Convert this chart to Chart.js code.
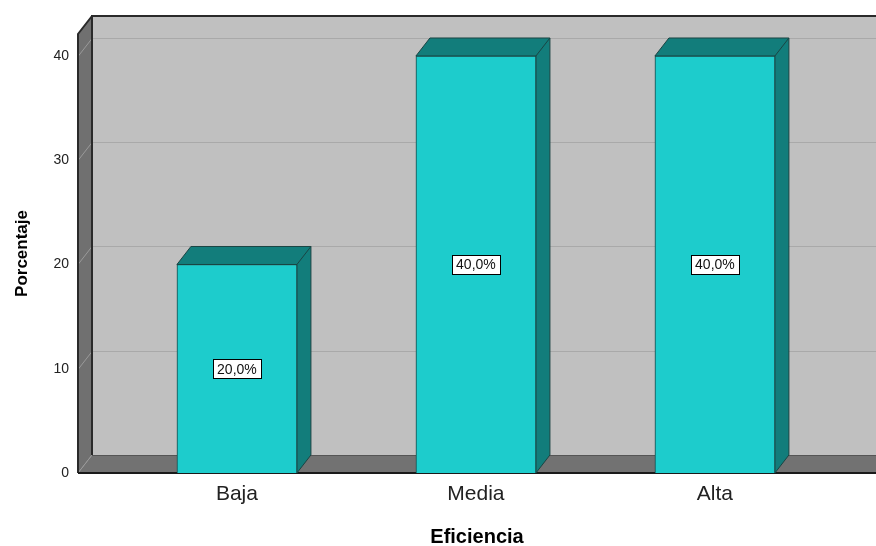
<!DOCTYPE html>
<html>
<head>
<meta charset="utf-8">
<script src="https://cdn.jsdelivr.net/npm/chart.js@4/dist/chart.umd.min.js"></script>
<style>
  html, body { margin: 0; padding: 0; background: #ffffff; }
  #wrap { width: 876px; height: 546px; }
</style>
</head>
<body>
<div id="wrap"><canvas id="chart" width="876" height="546"></canvas></div>
<script>
// Categories and values (percent of cases)
const categories = ['Baja', 'Media', 'Alta'];
const percentages = [20, 40, 40];
const yTickStep = 10;

// Depth of the 3D box (pixels): shift toward the back wall
const DEPTH_X = 14;
const DEPTH_Y = -18;

const FONT = '"Liberation Sans", Arial, sans-serif';

function fmtPct(v) {
  return v.toFixed(1).replace('.', ',') + '%';
}

// Walls, floor and grid drawn in perspective behind the bars
const boxPlugin = {
  id: 'box3d',
  beforeDraw(chart) {
    const { ctx, chartArea: ca, scales } = chart;
    const y = scales.y;
    const L = ca.left, R = chart.width + 20, T = ca.top, B = ca.bottom;
    const bx = L + DEPTH_X, by = B + DEPTH_Y, bt = T + DEPTH_Y;
    ctx.save();

    // back wall
    ctx.fillStyle = '#c0c0c0';
    ctx.fillRect(bx, bt, R - bx, by - bt);

    // left wall
    ctx.fillStyle = '#707070';
    ctx.beginPath();
    ctx.moveTo(L, T); ctx.lineTo(bx, bt); ctx.lineTo(bx, by); ctx.lineTo(L, B);
    ctx.closePath(); ctx.fill();

    // floor
    ctx.fillStyle = '#727272';
    ctx.beginPath();
    ctx.moveTo(L, B); ctx.lineTo(bx, by); ctx.lineTo(R, by); ctx.lineTo(R, B);
    ctx.closePath(); ctx.fill();

    // grid lines: horizontal on the back wall, slanted on the left wall
    ctx.lineWidth = 1;
    y.ticks.forEach(t => {
      if (t.value <= y.min) return;
      const py = Math.round(y.getPixelForValue(t.value)) + 0.5;
      ctx.strokeStyle = '#a9a9a9';
      ctx.beginPath(); ctx.moveTo(bx, py + DEPTH_Y); ctx.lineTo(R, py + DEPTH_Y); ctx.stroke();
      ctx.strokeStyle = '#9a9a9a';
      ctx.beginPath(); ctx.moveTo(L, py); ctx.lineTo(bx, py + DEPTH_Y); ctx.stroke();
    });
    // floor corner edge
    ctx.strokeStyle = '#999999';
    ctx.beginPath(); ctx.moveTo(L, B); ctx.lineTo(bx, by); ctx.stroke();

    // back wall bottom edge
    ctx.strokeStyle = '#555555';
    ctx.beginPath(); ctx.moveTo(bx, by + 0.5); ctx.lineTo(R, by + 0.5); ctx.stroke();

    // dark outlines
    ctx.strokeStyle = '#2a2a2a';
    ctx.lineWidth = 2;
    ctx.beginPath(); ctx.moveTo(bx, by); ctx.lineTo(bx, bt); ctx.lineTo(R, bt); ctx.stroke();
    ctx.beginPath(); ctx.moveTo(L, B); ctx.lineTo(L, T); ctx.lineTo(bx, bt); ctx.stroke();
    ctx.strokeStyle = '#1a1a1a';
    ctx.beginPath(); ctx.moveTo(L, B); ctx.lineTo(R, B); ctx.stroke();
    ctx.restore();
  },
  // top and side faces of each bar
  beforeDatasetsDraw(chart) {
    const { ctx } = chart;
    const meta = chart.getDatasetMeta(0);
    ctx.save();
    ctx.fillStyle = '#127d7b';
    ctx.strokeStyle = '#1b4443';
    ctx.lineWidth = 1;
    meta.data.forEach(bar => {
      const p = bar.getProps(['x', 'y', 'base', 'width'], true);
      const x1 = p.x - p.width / 2, x2 = p.x + p.width / 2;
      const top = p.y, bot = p.base;
      ctx.beginPath();
      ctx.moveTo(x1, top);
      ctx.lineTo(x1 + DEPTH_X, top + DEPTH_Y);
      ctx.lineTo(x2 + DEPTH_X, top + DEPTH_Y);
      ctx.lineTo(x2 + DEPTH_X, bot + DEPTH_Y);
      ctx.lineTo(x2, bot);
      ctx.lineTo(x2, top);
      ctx.closePath();
      ctx.fill(); ctx.stroke();
      ctx.beginPath();
      ctx.moveTo(x2, top); ctx.lineTo(x2 + DEPTH_X, top + DEPTH_Y);
      ctx.stroke();
    });
    ctx.restore();
  },
  // boxed value labels in the middle of each bar
  afterDatasetsDraw(chart) {
    const { ctx, scales } = chart;
    const meta = chart.getDatasetMeta(0);
    const data = chart.data.datasets[0].data;
    ctx.save();
    ctx.font = '14px ' + FONT;
    ctx.textAlign = 'center';
    ctx.textBaseline = 'middle';
    meta.data.forEach((bar, i) => {
      const v = data[i].y;
      const cx = bar.x;
      const cy = scales.y.getPixelForValue(v / 2);
      const txt = fmtPct(v);
      const w = Math.round(ctx.measureText(txt).width) + 8, h = 19;
      const bx = Math.round(cx - w / 2) + 0.5, by = Math.round(cy - h / 2) + 0.5;
      ctx.fillStyle = '#ffffff';
      ctx.fillRect(bx, by, w, h);
      ctx.strokeStyle = '#000000';
      ctx.lineWidth = 1;
      ctx.strokeRect(bx, by, w, h);
      ctx.fillStyle = '#111111';
      ctx.fillText(txt, cx, cy + 1);
    });
    ctx.restore();
  }
};

// x positions: one unit per category; range chosen so the box spans the canvas width
const X_MIN = -0.665, X_MAX = 2.674;

new Chart(document.getElementById('chart'), {
  type: 'bar',
  data: {
    datasets: [{
      data: percentages.map((v, i) => ({ x: i, y: v })),
      backgroundColor: '#1dcccc',
      borderColor: '#1b4443',
      borderWidth: 1,
      barThickness: 120
    }]
  },
  options: {
    responsive: false,
    animation: false,
    devicePixelRatio: 1,
    layout: { padding: { top: 34, right: 0, left: 0, bottom: 0 } },
    plugins: { legend: { display: false }, tooltip: { enabled: false } },
    scales: {
      x: {
        type: 'linear',
        offset: false,
        min: X_MIN,
        max: X_MAX,
        grid: { display: false, drawTicks: false, offset: false },
        border: { display: false },
        afterBuildTicks(scale) {
          scale.ticks = categories.map((_, i) => ({ value: i }));
        },
        afterFit(scale) { scale.height = 73; },
        ticks: {
          padding: 9,
          color: '#222222',
          font: { family: FONT, size: 21 },
          callback: v => categories[v] ?? ''
        },
        title: {
          display: true,
          text: 'Eficiencia',
          color: '#000000',
          font: { family: FONT, size: 20, weight: 'bold', lineHeight: '18px' },
          padding: { top: 0, bottom: 0 }
        }
      },
      y: {
        min: 0,
        max: 42.11,
        grid: { display: false, drawTicks: false },
        border: { display: false },
        afterFit(scale) { scale.width = 78; },
        ticks: {
          stepSize: yTickStep,
          includeBounds: false,
          padding: 9,
          color: '#222222',
          font: { family: FONT, size: 14 }
        },
        title: {
          display: true,
          text: 'Porcentaje',
          color: '#000000',
          font: { family: FONT, size: 17, weight: 'bold', lineHeight: 1.2 },
          padding: { top: 12, bottom: 0 }
        }
      }
    }
  },
  plugins: [boxPlugin]
});
</script>
</body>
</html>
